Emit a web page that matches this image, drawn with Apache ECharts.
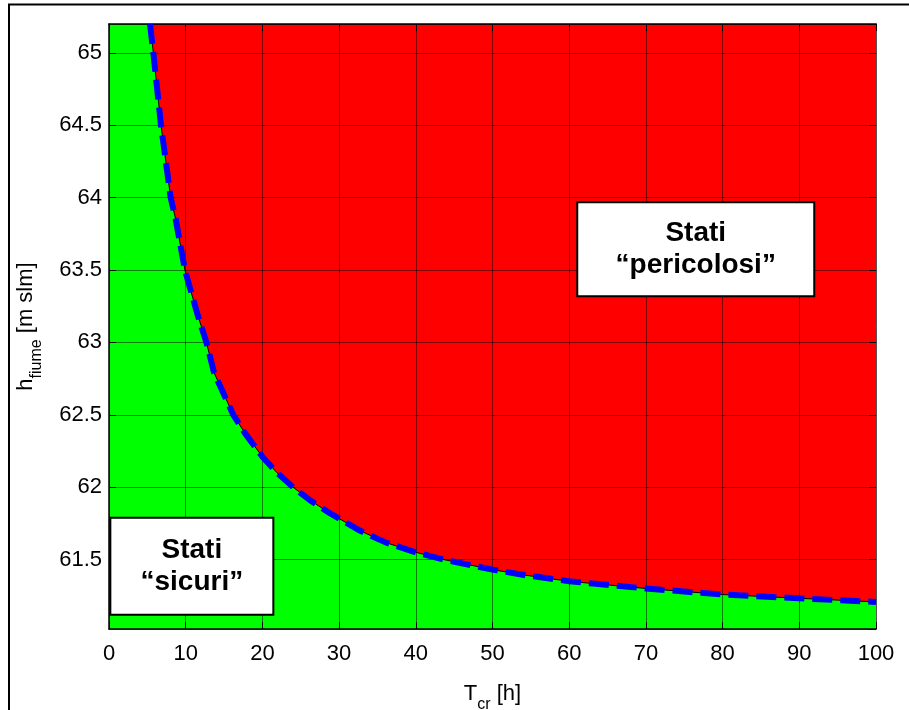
<!DOCTYPE html>
<html>
<head>
<meta charset="utf-8">
<script src="https://cdn.jsdelivr.net/npm/echarts@6/dist/echarts.min.js"></script>
<style>
  html, body { margin: 0; padding: 0; background: #ffffff; }
  #chart { width: 909px; height: 710px; }
</style>
</head>
<body>
<div id="chart"></div>
<script>
// Critical river level as a function of the critical time
const T_HOURS = [5.35, 5.78, 6.78, 8.04, 8.7, 9.9, 11.5, 12.7, 13.7, 14.9, 16.2, 17.7, 20, 21.9, 24, 26.2, 28.8, 32.7, 36.2, 40, 43.6, 50, 54.5, 60, 63.1, 70, 80, 90, 100];
const H_RIVER = [65.2, 65.0, 64.5, 64.0, 63.85, 63.5, 63.2, 63.0, 62.79, 62.65, 62.5, 62.375, 62.21, 62.1, 62.0, 61.91, 61.82, 61.70, 61.615, 61.55, 61.50, 61.43, 61.39, 61.35, 61.334, 61.30, 61.258, 61.232, 61.207];

// Axis extents
const X_RANGE = [0, 100];
const Y_RANGE = [61.02, 65.2];
const X_STEP = 10;
const Y_STEP = 0.5;

// Region labels (anchored at data coordinates)
const REGION_TEXT = ['Stati\n\u201Cpericolosi\u201D', 'Stati\n\u201Csicuri\u201D'];
const REGION_T = [76.5, 10.8];
const REGION_H = [63.643, 61.453];
const REGION_BOX = [[237, 94], [163, 97]];

const FONT = '"Liberation Sans", Arial, Helvetica, sans-serif';

const curve = T_HOURS.map((t, i) => [t, H_RIVER[i]]);

const chart = echarts.init(document.getElementById('chart'), null, { renderer: 'canvas' });

const gridLine = { show: true, lineStyle: { color: 'rgba(0,0,0,0.5)', width: 1, type: 'solid' } };

const titleRich = {
  m: { fontFamily: FONT, fontSize: 22, lineHeight: 22, verticalAlign: 'top', color: '#000' },
  s: { fontFamily: FONT, fontSize: 16, lineHeight: 30, verticalAlign: 'bottom', color: '#000' }
};

chart.setOption({
  animation: false,
  backgroundColor: '#ffffff',
  grid: {
    left: 109, top: 24, right: 33, bottom: 81,
    containLabel: false, outerBoundsMode: 'none',
    show: true, backgroundColor: '#00ff00', borderWidth: 0
  },
  xAxis: [{
    type: 'value', min: X_RANGE[0], max: X_RANGE[1], interval: X_STEP,
    position: 'bottom', z: 3,
    axisLine: { show: true, onZero: false, lineStyle: { color: '#000', width: 1.5 } },
    axisTick: { show: true, inside: true, length: 7, lineStyle: { color: '#000', width: 1 } },
    axisLabel: { color: '#000', fontFamily: FONT, fontSize: 22, margin: 14 },
    splitLine: gridLine,
    name: '{m|T}{s|cr}{m| [h]}',
    nameLocation: 'middle', nameGap: 54,
    nameTextStyle: { rich: titleRich }
  }, {
    type: 'value', min: X_RANGE[0], max: X_RANGE[1], interval: X_STEP,
    position: 'top', z: 3,
    axisLine: { show: true, onZero: false, lineStyle: { color: '#000', width: 1.5 } },
    axisTick: { show: true, inside: true, length: 7, lineStyle: { color: '#000', width: 1 } },
    axisLabel: { show: false },
    splitLine: { show: false }
  }],
  yAxis: [{
    type: 'value', min: Y_RANGE[0], max: Y_RANGE[1],
    splitNumber: 8, minInterval: Y_STEP, maxInterval: Y_STEP,
    position: 'left', z: 3,
    axisLine: { show: true, onZero: false, lineStyle: { color: '#000', width: 1.5 } },
    axisTick: { show: true, inside: true, length: 7, lineStyle: { color: '#000', width: 1 } },
    axisLabel: { color: '#000', fontFamily: FONT, fontSize: 22, margin: 7, showMinLabel: false, showMaxLabel: false },
    splitLine: gridLine,
    name: '{m|h}{s|fiume}{m| [m slm]}',
    nameLocation: 'middle', nameGap: 64, nameRotate: 90,
    nameTextStyle: { rich: titleRich }
  }, {
    type: 'value', min: Y_RANGE[0], max: Y_RANGE[1],
    splitNumber: 8, minInterval: Y_STEP, maxInterval: Y_STEP,
    position: 'right', z: 3,
    axisLine: { show: true, onZero: false, lineStyle: { color: '#555', width: 1 } },
    axisTick: { show: true, inside: true, length: 7, lineStyle: { color: '#000', width: 1 } },
    axisLabel: { show: false },
    splitLine: { show: false }
  }],
  series: [{
    // dangerous states: everything above the critical curve
    type: 'line', data: curve, xAxisIndex: 0, yAxisIndex: 0,
    symbol: 'none', z: 2, clip: true,
    lineStyle: { color: '#000', width: 1 },
    areaStyle: { color: '#ff0000', opacity: 1, origin: 'end' }
  }, {
    // critical curve
    type: 'line', data: curve, xAxisIndex: 0, yAxisIndex: 0,
    symbol: 'none', z: 4, clip: true,
    lineStyle: { color: '#0000ff', width: 6, type: [20, 8], cap: 'butt' }
  }]
});

function placeRegionLabels() {
  const elements = [{
    type: 'rect', silent: true, z: 20,
    shape: { x: 9, y: 4.5, width: 1200, height: 1200 },
    style: { fill: 'none', stroke: '#000', lineWidth: 2 }
  }];
  REGION_TEXT.forEach((txt, i) => {
    const p = chart.convertToPixel({ gridIndex: 0 }, [REGION_T[i], REGION_H[i]]);
    const w = REGION_BOX[i][0], h = REGION_BOX[i][1];
    elements.push({
      type: 'rect', silent: true, z: 20,
      shape: { x: p[0] - w / 2, y: p[1] - h / 2, width: w, height: h },
      style: { fill: '#ffffff', stroke: '#000', lineWidth: 2 }
    });
    elements.push({
      type: 'text', silent: true, z: 21, x: p[0], y: p[1],
      style: {
        text: txt, fill: '#000', font: 'bold 28px ' + FONT,
        lineHeight: 32, align: 'center', verticalAlign: 'middle'
      }
    });
  });
  chart.setOption({ graphic: elements });
}
placeRegionLabels();
</script>
</body>
</html>
